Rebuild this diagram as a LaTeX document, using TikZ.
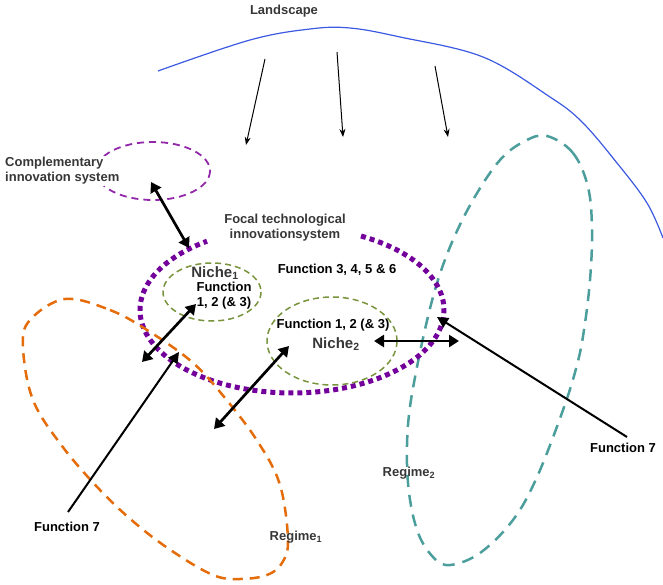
\documentclass[tikz,border=0pt]{standalone}
\usepackage{fontspec}
\setmainfont{Liberation Sans}
\usetikzlibrary{arrows.meta}
\definecolor{cpurple}{RGB}{115,0,155}
\definecolor{clilac}{RGB}{145,40,170}
\definecolor{corange}{RGB}{228,108,10}
\definecolor{cteal}{RGB}{75,158,155}
\definecolor{cgreen}{RGB}{119,147,60}
\definecolor{cblue}{RGB}{60,90,225}
\definecolor{cgray}{RGB}{55,55,55}
\tikzset{
  lbl/.style={font=\bfseries\fontsize{13}{15}\selectfont, inner sep=0pt, align=center},
  graylbl/.style={lbl, text=cgray},
  nichelbl/.style={graylbl, font=\bfseries\fontsize{15}{17}\selectfont},
  thinarrow/.style={-{Stealth[length=8pt,width=6pt]}, line width=1pt},
  dblarrow/.style={{Triangle[length=10pt,width=12pt]}-{Triangle[length=10pt,width=12pt]}, line width=2.7pt},
  fsevenarrow/.style={-{Triangle[length=11pt,width=11pt]}, line width=2pt},
  landline/.style={cblue, line width=1.2pt},
  regimeone/.style={corange, line width=2.5pt, dash pattern=on 10pt off 7pt},
  regimetwo/.style={cteal, line width=2.5pt, dash pattern=on 12pt off 8pt},
  focalline/.style={cpurple, line width=5pt, dash pattern=on 5pt off 4pt},
  compline/.style={clilac, line width=1.8pt, dash pattern=on 7pt off 5pt},
  nicheline/.style={cgreen, line width=1.5pt, dash pattern=on 6pt off 4pt}
}
\begin{document}
\begin{tikzpicture}[x=1pt,y=-1pt]
\useasboundingbox (0,0) rectangle (663,585);

% landscape arc
\draw[landline] plot[smooth, tension=0.6] coordinates {(158,71) (250,40) (310,29) (350,28) (400,37) (483,57) (550,97) (582,122) (617,163) (647,203) (663,238)};

% regime 2
\draw[regimetwo] plot[smooth cycle, tension=0.6] coordinates {(547,136) (573,153) (588,187) (592,230) (590,280) (584,330) (577,365) (563,410) (537,477) (513,520) (480,553) (450,565) (433,557) (417,530) (408,483) (408,425) (417,367) (433,297) (450,247) (473,200) (500,160) (525,141)};

% focal TIS (open at the top for its label)
\draw[focalline] plot[domain=-63:236, samples=160] ({292+152*cos(\x)}, {310+83*sin(\x)});

% regime 1
\draw[regimeone] plot[smooth cycle, tension=0.6] coordinates {(65,299) (110,310) (147,330) (192,362) (225,398) (258,442) (280,485) (288,540) (282,563) (267,575) (240,579) (213,575) (172,551) (135,523) (100,490) (62,446) (33,400) (23,347) (30,320)};

% complementary innovation system
\draw[compline] (153,171) ellipse[x radius=57, y radius=29];

% niches
\draw[nicheline] (212,292) ellipse[x radius=49, y radius=29];
\draw[nicheline] (332,341) ellipse[x radius=65, y radius=44];

% labels
\node[graylbl] (land) at (284,11) {Landscape};
\node[graylbl, anchor=west, align=left, fill=white, inner sep=1pt] (comp) at (4,171) {Complementary\\innovation system};
\node[graylbl] (focal) at (285,228) {Focal technological\\innovationsystem};
\node[lbl] (f3456) at (337,270) {Function 3, 4, 5 \& 6};
\node[nichelbl] (nicheone) at (215,273) {Niche\textsubscript{1}};
\node[lbl] (fone) at (224,296) {Function\\1, 2 (\& 3)};
\node[lbl] (ftwo) at (333,325) {Function 1, 2 (\& 3)};
\node[nichelbl] (nichetwo) at (336,344) {Niche\textsubscript{2}};
\node[graylbl] (regone) at (296,537) {Regime\textsubscript{1}};
\node[graylbl] (regtwo) at (409,473) {Regime\textsubscript{2}};
\node[lbl] (fsevenL) at (67,527) {Function 7};
\node[lbl] (fsevenR) at (623,448) {Function 7};

% landscape pressure arrows
\coordinate (la1) at (265,59);  \coordinate (lb1) at (246,145);
\coordinate (la2) at (337,52);  \coordinate (lb2) at (343,137);
\coordinate (la3) at (435,66);  \coordinate (lb3) at (448,137);
\draw[thinarrow] (la1) -- (lb1);
\draw[thinarrow] (la2) -- (lb2);
\draw[thinarrow] (la3) -- (lb3);

% double arrows
\coordinate (ca) at (151,182); \coordinate (cb) at (189,248);
\draw[dblarrow] (ca) -- (cb);
\coordinate (na) at (142,362); \coordinate (nb) at (196,304);
\draw[dblarrow] (na) -- (nb);
\coordinate (ma) at (214,429); \coordinate (mb) at (289,346);
\draw[dblarrow] (ma) -- (mb);
\coordinate (ha) at (374,341); \coordinate (hb) at (459,341);
\draw[dblarrow] (ha) -- (hb);

% function 7 arrows
\coordinate (fla) at (68,512); \coordinate (flb) at (179,352);
\draw[fsevenarrow] (fla) -- (flb);
\coordinate (fra) at (627,437); \coordinate (frb) at (437,317);
\draw[fsevenarrow] (fra) -- (frb);
\end{tikzpicture}
\end{document}
